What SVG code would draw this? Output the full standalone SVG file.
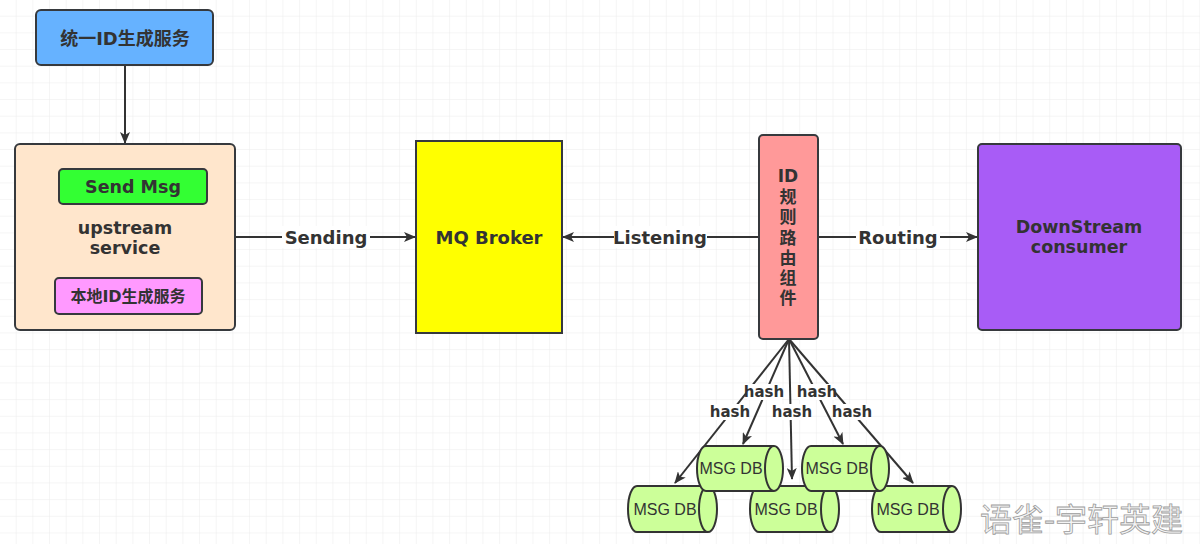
<svg xmlns="http://www.w3.org/2000/svg" width="1200" height="544" viewBox="0 0 1200 544">
<style>
.box{stroke:#36393d;stroke-width:2}
.t{font-family:"DejaVu Sans","Noto Sans CJK SC",sans-serif;font-weight:bold;fill:#333;text-anchor:middle;dominant-baseline:central}
.lbl{font-family:"DejaVu Sans",sans-serif;font-weight:bold;fill:#333;text-anchor:middle;dominant-baseline:central}
.edge{stroke:#333;stroke-width:2;fill:none}
.cyl{fill:#CCFF99;stroke:#333;stroke-width:2}
.db{font-family:"Liberation Sans",Arial,sans-serif;font-size:16px;fill:#333;text-anchor:middle;dominant-baseline:central}
.bg{fill:#fff}
</style>
<defs>
<pattern id="grid" width="16.67" height="16.67" patternUnits="userSpaceOnUse">
<path d="M16.67 0V16.67H0" fill="none" stroke="#ebebeb" stroke-width="1"/>
</pattern>
<marker id="arr" markerWidth="12" markerHeight="10" refX="11" refY="5" orient="auto" markerUnits="userSpaceOnUse">
<path d="M0,0 L12,5 L0,10 L3,5 Z" fill="#333"/>
</marker>
</defs>
<rect width="1200" height="544" fill="#fff"/>
<rect width="1200" height="544" fill="url(#grid)"/>

<g id="connectors">
<line class="edge" x1="125" y1="65" x2="125" y2="143" marker-end="url(#arr)"/>
<line class="edge" x1="235" y1="237" x2="415" y2="237" marker-end="url(#arr)"/>
<rect class="bg" x="282" y="226" width="88" height="22"/>
<text class="lbl" x="326" y="237" font-size="18">Sending</text>
<line class="edge" x1="759" y1="237" x2="563" y2="237" marker-end="url(#arr)"/>
<rect class="bg" x="614" y="226" width="93" height="22"/>
<text class="lbl" x="660" y="237" font-size="18">Listening</text>
<line class="edge" x1="818" y1="237" x2="977" y2="237" marker-end="url(#arr)"/>
<rect class="bg" x="856" y="226" width="84" height="22"/>
<text class="lbl" x="898" y="237" font-size="18">Routing</text>
<line class="edge" x1="789" y1="339" x2="675" y2="483" marker-end="url(#arr)"/>
<line class="edge" x1="789" y1="339" x2="743" y2="444" marker-end="url(#arr)"/>
<line class="edge" x1="789" y1="339" x2="792" y2="479" marker-end="url(#arr)"/>
<line class="edge" x1="789" y1="339" x2="843" y2="444" marker-end="url(#arr)"/>
<line class="edge" x1="789" y1="339" x2="913" y2="483" marker-end="url(#arr)"/>
<rect class="bg" x="747" y="384" width="35" height="16"/>
<text class="lbl" x="764" y="392" font-size="15">hash</text>
<rect class="bg" x="799" y="384" width="36" height="16"/>
<text class="lbl" x="817" y="392" font-size="15">hash</text>
<rect class="bg" x="711" y="404" width="36" height="16"/>
<text class="lbl" x="730" y="412" font-size="15">hash</text>
<rect class="bg" x="773" y="404" width="38" height="16"/>
<text class="lbl" x="792" y="412" font-size="15">hash</text>
<rect class="bg" x="836" y="404" width="35" height="16"/>
<text class="lbl" x="852" y="412" font-size="15">hash</text>
</g>

<g id="id-service">
<rect class="box" x="36" y="10" width="177" height="55" rx="5" fill="#66B2FF"/>
<text class="t" x="125" y="38" font-size="18">统一ID生成服务</text>
</g>

<g id="upstream">
<rect class="box" x="15" y="144" width="220" height="186" rx="5" fill="#FFE6CC"/>
<text class="t" x="125" y="228" font-size="17.5">upstream</text>
<text class="t" x="125" y="248" font-size="17.5">service</text>
</g>
<g id="send-msg">
<rect class="box" x="59" y="169" width="148" height="35" rx="4" fill="#33FF33"/>
<text class="t" x="133" y="187" font-size="17.5">Send Msg</text>
</g>
<g id="local-id">
<rect class="box" x="55" y="278" width="147" height="36" rx="4" fill="#FF99FF"/>
<text class="t" x="128" y="296" font-size="16">本地ID生成服务</text>
</g>

<g id="mq-broker">
<rect class="box" x="416" y="141" width="146" height="192" fill="#FFFF00"/>
<text class="t" x="489" y="237" font-size="18">MQ Broker</text>
</g>

<g id="router">
<rect class="box" x="759" y="135" width="59" height="204" rx="4" fill="#FF9999"/>
<text class="t" x="788" y="176" font-size="17">ID</text>
<text class="t" x="788" y="197" font-size="17">规</text>
<text class="t" x="788" y="217" font-size="17">则</text>
<text class="t" x="788" y="238" font-size="17">路</text>
<text class="t" x="788" y="258" font-size="17">由</text>
<text class="t" x="788" y="278" font-size="17">组</text>
<text class="t" x="788" y="298" font-size="17">件</text>
</g>

<g id="downstream">
<rect class="box" x="978" y="144" width="203" height="186" rx="4" fill="#A85CF6"/>
<text class="t" x="1079" y="227" font-size="17.5">DownStream</text>
<text class="t" x="1079" y="247" font-size="17.5">consumer</text>
</g>

<g id="db-c">
<path class="cyl" d="M637,486 H708 A9,23 0 0 1 708,532 H637 A9,23 0 0 1 637,486 Z"/>
<path class="cyl" d="M708,486 A9,23 0 0 0 708,532" fill="none"/>
<text class="db" x="665" y="509">MSG DB</text>
</g>
<g id="db-d">
<path class="cyl" d="M759,486 H830 A9,23 0 0 1 830,532 H759 A9,23 0 0 1 759,486 Z"/>
<path class="cyl" d="M830,486 A9,23 0 0 0 830,532" fill="none"/>
<text class="db" x="786" y="509">MSG DB</text>
</g>
<g id="db-e">
<path class="cyl" d="M881,486 H952 A9,23 0 0 1 952,532 H881 A9,23 0 0 1 881,486 Z"/>
<path class="cyl" d="M952,486 A9,23 0 0 0 952,532" fill="none"/>
<text class="db" x="908" y="509">MSG DB</text>
</g>
<g id="db-a">
<path class="cyl" d="M706,446 H774 A9,22.5 0 0 1 774,491 H706 A9,22.5 0 0 1 706,446 Z"/>
<path class="cyl" d="M774,446 A9,22.5 0 0 0 774,491" fill="none"/>
<text class="db" x="731" y="468">MSG DB</text>
</g>
<g id="db-b">
<path class="cyl" d="M811,446 H880 A9,22.5 0 0 1 880,491 H811 A9,22.5 0 0 1 811,446 Z"/>
<path class="cyl" d="M880,446 A9,22.5 0 0 0 880,491" fill="none"/>
<text class="db" x="837" y="468">MSG DB</text>
</g>

<text x="980" y="531" font-family="'Noto Sans CJK SC',sans-serif" font-size="32" fill="#f4f4f4" stroke="#9c9c9c" stroke-width="0.8">语雀-宇轩英建</text>
</svg>
